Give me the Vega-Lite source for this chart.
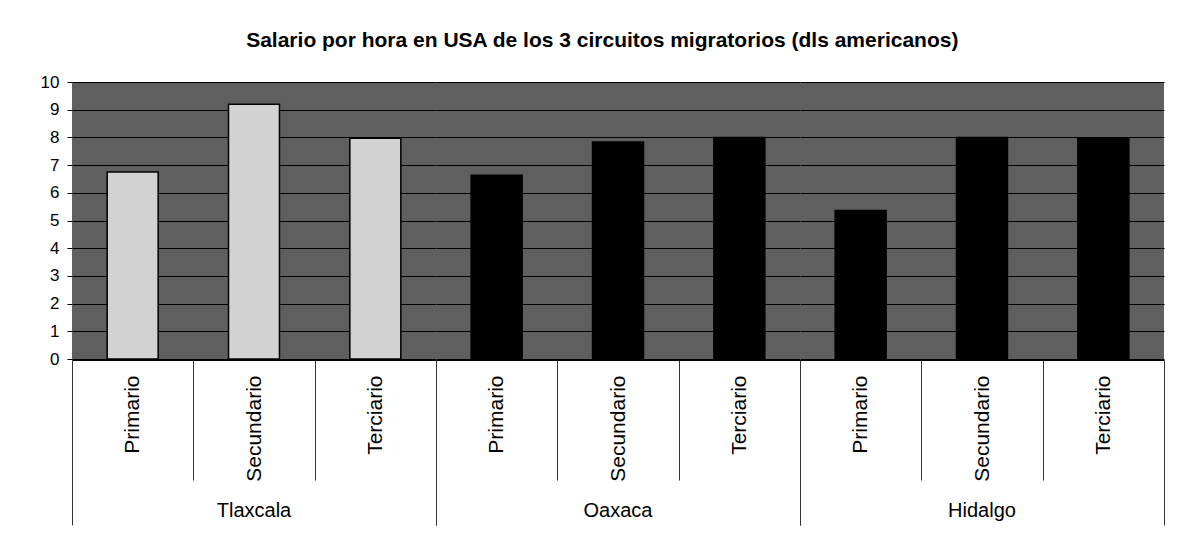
{
  "$schema": "https://vega.github.io/schema/vega-lite/v6.json",
  "autosize": {"type": "pad"},
  "padding": {"left": 40, "top": 30, "right": 14, "bottom": 5},
  "background": "white",
  "title": {
    "text": "Salario por hora en USA de los 3 circuitos migratorios (dls americanos)",
    "font": "Liberation Sans",
    "fontSize": 21,
    "fontWeight": "bold",
    "color": "black",
    "anchor": "middle",
    "offset": 22
  },
  "data": {
    "values": [
      {"estado": "Tlaxcala", "nivel": "Primario", "salario": 6.75},
      {"estado": "Tlaxcala", "nivel": "Secundario", "salario": 9.2},
      {"estado": "Tlaxcala", "nivel": "Terciario", "salario": 7.97},
      {"estado": "Oaxaca", "nivel": "Primario", "salario": 6.63},
      {"estado": "Oaxaca", "nivel": "Secundario", "salario": 7.83},
      {"estado": "Oaxaca", "nivel": "Terciario", "salario": 8.0},
      {"estado": "Hidalgo", "nivel": "Primario", "salario": 5.36},
      {"estado": "Hidalgo", "nivel": "Secundario", "salario": 8.0},
      {"estado": "Hidalgo", "nivel": "Terciario", "salario": 7.95}
    ]
  },
  "facet": {
    "column": {
      "field": "estado",
      "type": "nominal",
      "sort": ["Tlaxcala", "Oaxaca", "Hidalgo"],
      "title": null,
      "header": {
        "labelOrient": "bottom",
        "labelFont": "Liberation Sans",
        "labelFontSize": 20,
        "labelColor": "black",
        "labelPadding": -25
      }
    }
  },
  "spacing": 0,
  "spec": {
    "width": 364,
    "height": 277,
    "mark": {"type": "bar", "width": {"band": 0.42}, "stroke": "black", "strokeWidth": 1.5},
    "encoding": {
      "x": {
        "field": "nivel",
        "type": "nominal",
        "sort": ["Primario", "Secundario", "Terciario"],
        "scale": {"paddingInner": 0, "paddingOuter": 0},
        "axis": {
          "title": null,
          "labelAngle": -90,
          "labelFont": "Liberation Sans",
          "labelFontSize": 21,
          "labelColor": "black",
          "labelPadding": {"condition": {"test": "datum.value === 'Terciario'", "value": -150}, "value": -105},
          "tickBand": "extent",
          "tickSize": {"condition": {"test": "datum.value === 'Terciario' || datum.extra", "value": 165}, "value": 120},
          "tickColor": "#333333",
          "tickWidth": 1,
          "domainColor": "black",
          "domainWidth": 1
        }
      },
      "y": {
        "field": "salario",
        "type": "quantitative",
        "scale": {"domain": [0, 10], "nice": false},
        "axis": {
          "title": null,
          "values": [0, 1, 2, 3, 4, 5, 6, 7, 8, 9, 10],
          "labelFont": "Liberation Sans",
          "labelFontSize": 17,
          "labelColor": "black",
          "labelPadding": 8,
          "tickSize": 5,
          "tickColor": "black",
          "domainColor": "black",
          "grid": true,
          "gridColor": "black",
          "gridWidth": 1,
          "gridOpacity": 1
        }
      },
      "color": {
        "field": "estado",
        "type": "nominal",
        "scale": {"domain": ["Tlaxcala", "Oaxaca", "Hidalgo"], "range": ["#d2d2d2", "#000000", "#000000"]},
        "legend": null
      }
    }
  },
  "config": {
    "view": {"stroke": null, "fill": "#5f5f5f"},
    "font": "Liberation Sans"
  }
}
